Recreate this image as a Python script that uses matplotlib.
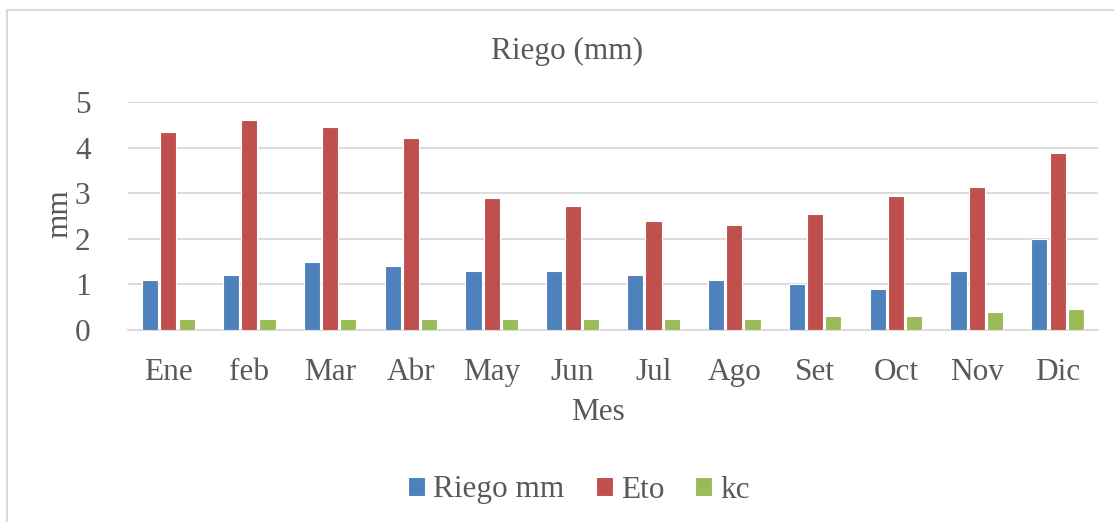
import numpy as np
import matplotlib
matplotlib.use("Agg")
import matplotlib.pyplot as plt
from matplotlib.lines import Line2D

# Monthly data
meses = ["Ene", "feb", "Mar", "Abr", "May", "Jun", "Jul", "Ago", "Set", "Oct", "Nov", "Dic"]
riego = [1.1, 1.2, 1.5, 1.4, 1.3, 1.3, 1.2, 1.1, 1.0, 0.9, 1.3, 2.0]
eto = [4.35, 4.6, 4.45, 4.2, 2.9, 2.72, 2.4, 2.3, 2.55, 2.94, 3.13, 3.89]
kc = [0.25, 0.25, 0.25, 0.25, 0.25, 0.25, 0.25, 0.25, 0.3, 0.3, 0.4, 0.45]

series = [("Riego mm", riego, "#4F81BD"), ("Eto", eto, "#C0504D"), ("kc", kc, "#9BBB59")]

plt.rcParams['font.family'] = ['Liberation Serif', 'DejaVu Serif']
txt = "#595959"
fs = 22.5

W, H = 1114, 522
fig = plt.figure(figsize=(W / 100, H / 100), dpi=100)
ax = fig.add_axes([128 / W, 1 - 330 / H, (1098 - 128) / W, (330 - 102) / H])

x = np.arange(len(meses))
offsets = [-0.226, 0.0, 0.226]
for (name, vals, col), off in zip(series, offsets):
    ax.bar(x + off, vals, width=0.2, color=col, edgecolor="white", linewidth=0.8,
           label=name, zorder=3)

ax.set_xlim(-0.5, len(meses) - 0.5)
ax.set_ylim(0, 5)
ax.set_yticks(range(6))
ax.set_xticks(x)
ax.set_xticklabels(meses)
ax.tick_params(axis="both", length=0, labelsize=fs, labelcolor=txt)
ax.tick_params(axis="y", pad=27)
ax.tick_params(axis="x", pad=20)
ax.yaxis.grid(True, color="#D9D9D9", linewidth=1.3, zorder=0)
for s in ["top", "right", "left"]:
    ax.spines[s].set_visible(False)
ax.spines["bottom"].set_color("#D9D9D9")
ax.spines["bottom"].set_linewidth(1.3)

fig.text(567 / W, 1 - 51 / H, "Riego (mm)", ha="center", va="center", fontsize=fs, color=txt)
fig.text(598 / W, 1 - 413 / H, "Mes", ha="center", va="center", fontsize=fs, color=txt)
fig.text(60 / W, 1 - 214 / H, "mm", ha="center", va="center", rotation=90, fontsize=fs, color=txt)

leg = fig.legend(loc="center", bbox_to_anchor=(579 / W, 1 - 490 / H), ncol=3, frameon=False,
                 fontsize=fs, handlelength=0.55, handleheight=0.55, handletextpad=0.25,
                 columnspacing=1.0, labelcolor=txt)

# chart border
fig.add_artist(Line2D([7 / W, 7 / W], [0, 1 - 10 / H], color="#D9D9D9", linewidth=1.5))
fig.add_artist(Line2D([7 / W, 1], [1 - 10 / H, 1 - 10 / H], color="#D9D9D9", linewidth=1.5))

fig.savefig("out.png", dpi=100)
